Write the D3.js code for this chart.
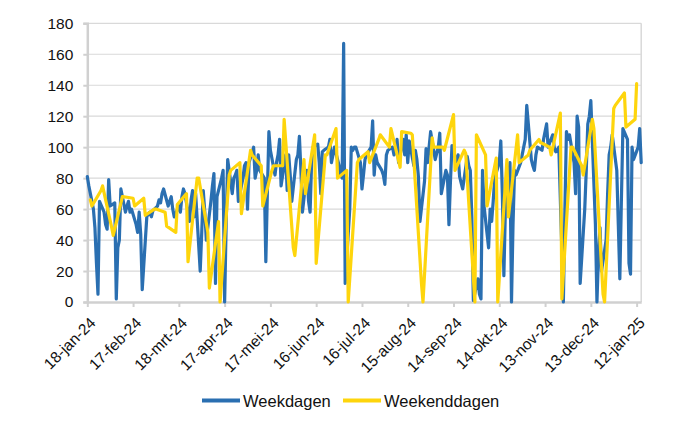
<!DOCTYPE html>
<html><head><meta charset="utf-8">
<script src="https://cdn.jsdelivr.net/npm/d3@7/dist/d3.min.js"></script>
<style>body{margin:0;background:#fff;} svg{display:block;}</style>
</head><body>
<svg id="chart" width="700" height="430"></svg>
<script>
// ---- data ----
const startDate = [2024, 0, 18];   // 18-jan-24
const endDate = [2025, 0, 15];     // 15-jan-25
const tickLabels = ["18-jan-24","17-feb-24","18-mrt-24","17-apr-24","17-mei-24","16-jun-24","16-jul-24",
                    "15-aug-24","14-sep-24","14-okt-24","13-nov-24","13-dec-24","12-jan-25"];
const yTicks = [0,20,40,60,80,100,120,140,160,180];
const seriesNames = ["Weekdagen","Weekenddagen"];

// values on working days (Mon-Fri) in date order
const weekdayValues = [
  81,75,
  60,48,25,5,65,   58,50,47,79,62,   64,2,35,40,73,    58,62,65,58,60,   50,45,58,44,8,
  55,57,58,55,59,  62,66,64,70,73,   62,65,68,60,55,   62,58,68,73,70,   52,66,72,55,70,
  20,45,72,58,40,  65,75,83,12,68,   80,85,0,50,92,    70,80,82,85,65,   80,88,90,60,90,
  100,80,85,95,85, 80,26,70,110,98,  82,90,95,105,75,  95,72,95,82,65,   92,95,107,85,58,
  85,65,58,90,100, 102,90,70,97,98,  100,105,90,95,100,88,82,80,167,12,  60,100,98,100,100,
  90,73,82,92,95,  100,117,82,95,90, 85,82,76,95,98,   100,95,98,105,90, 105,95,108,90,104,
  88,98,92,81,52,  78,99,90,100,110, 92,96,100,109,70, 85,82,50,78,101,  90,95,81,77,73,
  94,88,85,55,1,   15,5,2,85,62,     35,60,52,65,80,   90,104,70,17,60,  90,0,50,85,82,
  90,95,100,105,127, 92,88,85,95,100, 98,105,110,115,100, 108,100,97,98,100, 0,60,110,105,108,
  90,70,120,113,12, 60,85,115,120,130, 50,0,30,48,20,  40,70,95,100,108, 85,50,15,65,112,
  105,25,18,100,92, 100,112,90
];
// values on Saturdays and Sundays in date order
const weekendValues = [
  66,62, 72,75, 48,43, 68,68, 67,62, 67,56, 60,60, 58,49, 45,63, 70,26,
  80,80, 45,9, 52,0, 82,85, 90,57, 98,95, 88,62, 85,88, 88,118, 35,30,
  92,70, 108,25, 95,95, 112,80, 85,0, 90,92, 97,90, 105,108, 100,112, 87,110,
  109,108, 12,0, 106,100, 100,98, 121,85, 98,96, 0,108, 95,62, 93,0, 92,55,
  108,90, 95,98, 105,103, 100,95, 122,2, 100,100, 88,82, 118,112, 5,0, 125,127,
  135,113, 118,141
];

(function () {
// ---- build series ----
const start = new Date(Date.UTC(...startDate));
const end = new Date(Date.UTC(...endDate));
const days = d3.utcDay.range(start, d3.utcDay.offset(end, 1));
const wk = [], we = [];
days.forEach(d => {
  const dow = d.getUTCDay();
  if (dow === 0 || dow === 6) { if (we.length < weekendValues.length) we.push({date: d, value: weekendValues[we.length]}); }
  else { if (wk.length < weekdayValues.length) wk.push({date: d, value: weekdayValues[wk.length]}); }
});
const tickDates = tickLabels.map((_, i) => d3.utcDay.offset(start, 30 * i));

// ---- chart ----
const svg = d3.select("#chart");
const pLeft = 87.3, pRight = 641.2, pTop = 23.3, pBottom = 302;
const x = d3.scaleUtc().domain([start, end]).range([pLeft, pRight]);
const y = d3.scaleLinear().domain([0, 180]).range([pBottom, pTop]);
const gridColor = "#d9d9d9", axisColor = "#d0d0d0";
const blue = "#2a6fb1", yellow = "#fed50c";
const font = "'Liberation Sans', Arial, sans-serif";

// gridlines
svg.append("g").selectAll("line").data(yTicks.filter(v => v > 0)).join("line")
  .attr("x1", pLeft).attr("x2", pRight).attr("y1", d => y(d)).attr("y2", d => y(d))
  .attr("stroke", gridColor).attr("stroke-width", 1.2);
// right border
svg.append("line").attr("x1", pRight).attr("x2", pRight).attr("y1", y(180)).attr("y2", pBottom)
  .attr("stroke", gridColor).attr("stroke-width", 1.5);

// y axis
const yAxis = svg.append("g").attr("transform", `translate(${pLeft},0)`)
  .call(d3.axisLeft(y).tickValues(yTicks).tickSize(4).tickPadding(10));
yAxis.select(".domain").attr("stroke", axisColor).attr("stroke-width", 2.5);
yAxis.selectAll(".tick line").attr("stroke", axisColor).attr("stroke-width", 2);
yAxis.selectAll("text").attr("font-family", font).attr("font-size", 15.5).attr("fill", "#111");

// x axis
const xAxis = svg.append("g").attr("transform", `translate(0,${pBottom})`)
  .call(d3.axisBottom(x).tickValues(tickDates).tickFormat((d, i) => tickLabels[i]).tickSize(5).tickSizeOuter(0));
xAxis.select(".domain").attr("stroke", axisColor).attr("stroke-width", 2.5);
xAxis.selectAll(".tick line").attr("stroke", axisColor).attr("stroke-width", 2);
xAxis.selectAll("text").attr("font-family", font).attr("font-size", 15.5).attr("fill", "#111")
  .attr("text-anchor", "end").attr("x", 0).attr("y", 0).attr("dy", "0.35em")
  .attr("transform", "translate(5,18) rotate(-45)");

// lines
const line = d3.line().x(d => x(d.date)).y(d => y(d.value));
svg.append("path").datum(wk).attr("d", line).attr("fill", "none")
  .attr("stroke", blue).attr("stroke-width", 3.2).attr("stroke-linejoin", "round").attr("stroke-linecap", "round");
svg.append("path").datum(we).attr("d", line).attr("fill", "none")
  .attr("stroke", yellow).attr("stroke-width", 3.2).attr("stroke-linejoin", "round").attr("stroke-linecap", "round");

// legend
const legend = svg.append("g");
const items = [{name: seriesNames[0], color: blue, x: 202}, {name: seriesNames[1], color: yellow, x: 343}];
items.forEach(it => {
  legend.append("line").attr("x1", it.x).attr("x2", it.x + 38).attr("y1", 400.5).attr("y2", 400.5)
    .attr("stroke", it.color).attr("stroke-width", 4);
  legend.append("text").attr("x", it.x + 41).attr("y", 406.5).text(it.name)
    .attr("font-family", font).attr("font-size", 16.5).attr("fill", "#111");
});
})();
</script>
</body></html>
